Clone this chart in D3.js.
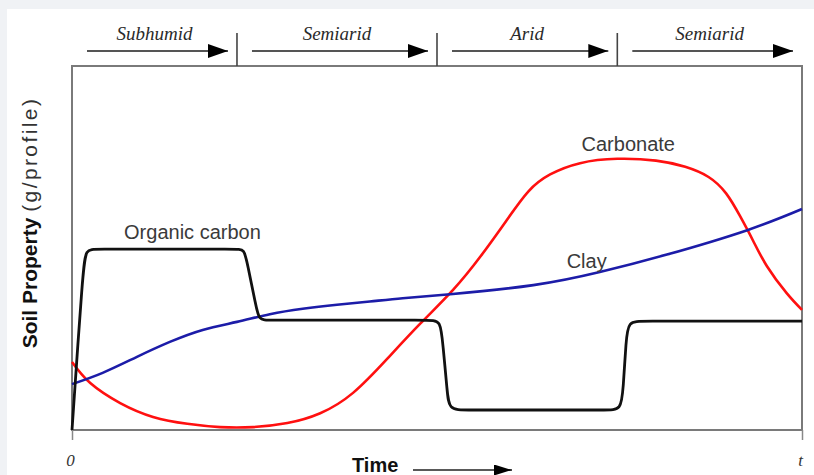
<!DOCTYPE html>
<html>
<head>
<meta charset="utf-8">
<script src="https://cdn.jsdelivr.net/npm/d3@7"></script>
<style>
  html, body { margin: 0; padding: 0; background: #f0f2f5; }
  #wrapper { position: absolute; left: 7px; top: 9px; width: 807px; height: 466px; background: #fff; }
  svg { position: absolute; left: 0; top: 0; }
</style>
</head>
<body>
<div id="wrapper"></div>
<script>
// time runs 0 -> 100 (0 ... t), soil property in arbitrary units 0 -> 100
const climateNames = ["Subhumid", "Semiarid", "Arid", "Semiarid"]
const climateBounds = [0, 22.6, 50.0, 74.7, 100]
const timeTicks = [0, 100]
const timeTickLabels = ["0", "t"]

const organicCarbon = [
  [0, 0], [1.5, 44.0], [1.9, 49.7], [3.2, 49.7], [12.1, 49.7], [22.5, 49.7],
  [23.6, 49.7], [24.0, 45.9], [25.2, 34.1], [25.6, 30.2], [26.8, 30.2],
  [35.3, 30.2], [49.0, 30.2], [50.5, 30.2], [50.8, 23.4], [51.4, 11.0],
  [51.6, 5.5], [53.8, 5.5], [64.1, 5.5], [73.4, 5.5], [75.2, 5.5],
  [75.5, 11.0], [75.9, 24.7], [76.2, 29.9], [78.1, 29.9], [88.8, 29.9], [100, 29.9]
]
const clay = [
  [0, 12.6], [4.2, 15.7], [8.9, 20.1], [13.4, 24.2], [17.9, 27.5], [22.6, 29.7],
  [27.1, 31.8], [31.6, 33.3], [36.3, 34.4], [40.8, 35.3], [45.3, 36.2],
  [51.8, 37.3], [63.2, 39.8], [72.3, 43.4], [81.5, 48.2], [92.5, 54.9], [100, 60.7]
]
const carbonate = [
  [0, 18.7], [2.5, 12.9], [6.6, 7.4], [11.1, 3.6], [15.8, 1.7], [20.3, 0.8],
  [24.8, 0.8], [29.5, 1.9], [34.0, 4.6], [38.5, 10.2], [43.2, 19.6], [47.7, 29.2],
  [52.2, 38.5], [56.0, 47.8], [59.5, 57.5], [62.5, 65.5], [65.5, 70.2], [69.6, 73.3],
  [74.7, 74.5], [80.0, 74.0], [84.0, 72.3], [87.2, 69.5], [89.6, 65.0], [91.5, 58.8],
  [93.3, 52.0], [95.2, 45.0], [97.9, 37.6], [100, 33.0]
]
const curveLabels = [
  { name: "Organic carbon", t: 16.5, v: 52.5 },
  { name: "Clay", t: 70.5, v: 44.5 },
  { name: "Carbonate", t: 76.2, v: 76.6 },
]

const dimensions = {
  width: 814,
  height: 475,
  margin: { top: 66, right: 12, bottom: 45, left: 72 },
}
dimensions.boundedWidth = dimensions.width - dimensions.margin.left - dimensions.margin.right
dimensions.boundedHeight = dimensions.height - dimensions.margin.top - dimensions.margin.bottom

const svg = d3.select("body")
  .append("svg")
    .attr("width", dimensions.width)
    .attr("height", dimensions.height)

const bounds = svg.append("g")
  .attr("transform", `translate(${dimensions.margin.left},${dimensions.margin.top})`)

const xScale = d3.scaleLinear().domain([0, 100]).range([0, dimensions.boundedWidth])
const yScale = d3.scaleLinear().domain([0, 100]).range([dimensions.boundedHeight, 0])

// arrow heads
const defs = svg.append("defs")
defs.append("marker")
    .attr("id", "head")
    .attr("viewBox", "0 0 20 14")
    .attr("refX", 20).attr("refY", 7)
    .attr("markerUnits", "userSpaceOnUse")
    .attr("markerWidth", 20).attr("markerHeight", 14)
    .attr("orient", "auto")
  .append("path")
    .attr("d", "M0,0 L20,7 L0,14 Z")
    .attr("fill", "#000")
defs.append("marker")
    .attr("id", "headSmall")
    .attr("viewBox", "0 0 18 11")
    .attr("refX", 18).attr("refY", 5.5)
    .attr("markerUnits", "userSpaceOnUse")
    .attr("markerWidth", 18).attr("markerHeight", 11)
    .attr("orient", "auto")
  .append("path")
    .attr("d", "M0,0 L18,5.5 L0,11 Z")
    .attr("fill", "#000")

// frame
bounds.append("rect")
    .attr("x", xScale(0)).attr("y", yScale(100))
    .attr("width", xScale(100) - xScale(0))
    .attr("height", yScale(0) - yScale(100))
    .attr("fill", "none")
    .attr("stroke", "#7a7a7a")
    .attr("stroke-width", 2)

// climate periods along the top
const climates = climateNames.map((name, i) => ({ name, start: climateBounds[i], end: climateBounds[i + 1] }))
const climateGroup = bounds.append("g")

climateGroup.selectAll(".divider")
  .data(climateBounds.slice(1, -1))
  .join("line")
    .attr("x1", d => xScale(d)).attr("x2", d => xScale(d))
    .attr("y1", -33).attr("y2", 0)
    .attr("stroke", "#444")
    .attr("stroke-width", 1.6)

climateGroup.selectAll(".period-arrow")
  .data(climates)
  .join("line")
    .attr("x1", d => xScale(d.start) + 15)
    .attr("x2", d => xScale(d.end) - 9)
    .attr("y1", -15).attr("y2", -15)
    .attr("stroke", "#555")
    .attr("stroke-width", 2)
    .attr("marker-end", "url(#head)")

climateGroup.selectAll(".period-label")
  .data(climates)
  .join("text")
    .attr("x", d => (xScale(d.start) + xScale(d.end)) / 2)
    .attr("y", -26)
    .attr("text-anchor", "middle")
    .style("font-family", "'Liberation Serif', 'DejaVu Serif', serif")
    .style("font-style", "italic")
    .style("font-size", "19px")
    .attr("fill", "#2a2a2a")
    .text(d => d.name)

// curves
const lineGen = curve => d3.line()
  .x(d => xScale(d[0]))
  .y(d => yScale(d[1]))
  .curve(curve)

bounds.append("path")
    .attr("d", lineGen(d3.curveNatural)(carbonate))
    .attr("fill", "none")
    .attr("stroke", "#ff1010")
    .attr("stroke-width", 2.6)

bounds.append("path")
    .attr("d", lineGen(d3.curveNatural)(clay))
    .attr("fill", "none")
    .attr("stroke", "#1c1ca8")
    .attr("stroke-width", 2.6)

bounds.append("path")
    .attr("d", lineGen(d3.curveBasis)(organicCarbon))
    .attr("fill", "none")
    .attr("stroke", "#111")
    .attr("stroke-width", 2.8)
    .attr("stroke-linejoin", "round")

bounds.selectAll(".curve-label")
  .data(curveLabels)
  .join("text")
    .attr("x", d => xScale(d.t))
    .attr("y", d => yScale(d.v))
    .attr("text-anchor", "middle")
    .style("font-family", "'Liberation Sans', Arial, sans-serif")
    .style("font-size", "20px")
    .attr("fill", "#3a3a3a")
    .text(d => d.name)

// time axis
const xAxis = d3.axisBottom(xScale)
  .tickValues(timeTicks)
  .tickFormat((d, i) => timeTickLabels[i])
  .tickSize(10)
  .tickPadding(14)

const xAxisGroup = bounds.append("g")
    .attr("transform", `translate(0,${dimensions.boundedHeight})`)
    .call(xAxis)
xAxisGroup.select(".domain").remove()
xAxisGroup.selectAll(".tick line").attr("stroke", "#888").attr("stroke-width", 1.5)
xAxisGroup.selectAll(".tick text")
    .style("font-family", "'Liberation Serif', serif")
    .style("font-style", "italic")
    .style("font-size", "17px")
    .attr("fill", "#333")
    .attr("dx", -2)

bounds.append("text")
    .attr("x", 280)
    .attr("y", dimensions.boundedHeight + 42)
    .style("font-family", "'Liberation Sans', Arial, sans-serif")
    .style("font-weight", "bold")
    .style("font-size", "20px")
    .attr("fill", "#111")
    .text("Time")

bounds.append("line")
    .attr("x1", 341).attr("x2", 440)
    .attr("y1", dimensions.boundedHeight + 40)
    .attr("y2", dimensions.boundedHeight + 40)
    .attr("stroke", "#222")
    .attr("stroke-width", 1.6)
    .attr("marker-end", "url(#headSmall)")

// y label
const yLabel = bounds.append("text")
    .attr("transform", `translate(-35,${dimensions.boundedHeight * 0.43}) rotate(-90)`)
    .attr("text-anchor", "middle")
    .style("font-family", "'Liberation Sans', Arial, sans-serif")
    .style("font-size", "21px")
    .attr("fill", "#111")
yLabel.append("tspan").style("font-weight", "bold").text("Soil Property ")
yLabel.append("tspan").attr("fill", "#333").style("letter-spacing", "2.4px").text("(g/profile)")
</script>
</body>
</html>
